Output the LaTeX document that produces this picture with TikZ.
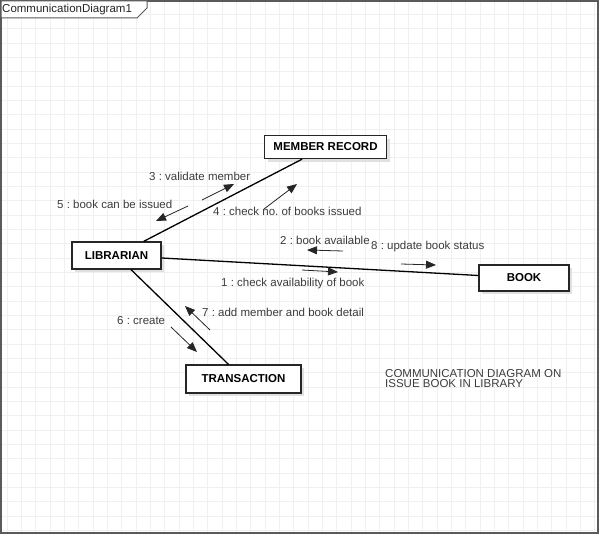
\documentclass[tikz,border=0pt]{standalone}
\usepackage{fontspec}
\setmainfont{Liberation Sans}
\usepackage{tikz}
\usetikzlibrary{arrows.meta,shadows}
\definecolor{gridgr}{RGB}{240,240,240}
\definecolor{framegr}{RGB}{90,90,90}
\definecolor{msgtxt}{RGB}{60,60,60}
\frenchspacing

\begin{document}
\begin{tikzpicture}[x=1pt,y=-1pt,
    every node/.style={font=\fontsize{11.5}{12}\selectfont},
    objbox/.style={draw=black!85,line width=1.3pt,fill=white,
      font=\fontsize{11.5}{12}\selectfont\bfseries,inner sep=0pt,
      drop shadow={shadow xshift=3pt,shadow yshift=-3pt,fill=black!12,opacity=1}},
    link/.style={black,line width=1.3pt},
    msg/.style={black!85,line width=0.8pt,-{Triangle[length=10pt,width=8pt]}},
    msglabel/.style={msgtxt,anchor=west,inner sep=0pt}]

    % page and grid
    \useasboundingbox (0,0) rectangle (602,535);
    \fill[white] (0,0) rectangle (602,535);
    \foreach \i in {0,...,41}
      \draw[gridgr,line width=0.7pt] ({7+14.33*\i},1) -- ({7+14.33*\i},533);
    \foreach \j in {1,...,37}
      \draw[gridgr,line width=0.7pt] (1,{14.33*\j}) -- (598,{14.33*\j});

    % diagram frame with its name tag
    \draw[framegr,line width=1.2pt] (1,1) rectangle (598,533);
    \draw[framegr,line width=1pt,fill=white] (1,1) -- (147,1) -- (147,8) -- (137,18) -- (1,18) -- cycle;
    \node[anchor=west,inner sep=0pt,black!85] (title) at (2,9.5) {CommunicationDiagram1};

    % objects
    \node[objbox,minimum width=122pt,minimum height=23pt] (member) at (325.5,147) {MEMBER RECORD};
    \node[objbox,minimum width=89pt,minimum height=27pt] (librarian) at (116.5,255.5) {LIBRARIAN};
    \node[objbox,minimum width=90pt,minimum height=26pt] (book) at (524,278) {BOOK};
    \node[objbox,minimum width=115pt,minimum height=28pt] (transaction) at (243.5,379) {TRANSACTION};

    % links
    \draw[link] (librarian) -- (member);
    \draw[link] (librarian) -- (book);
    \draw[link] (librarian) -- (transaction);

    % message arrows
    \foreach \n/\sx/\sy/\ex/\ey in {3/202/200/234/184, 5/188/206/156/221,
        4/264/209/297/184, 2/343/251/307/250, 8/401/264/436/265,
        1/302/270/338/272, 7/210/330/185/306, 6/171/327/197/352} {
      \coordinate (t\n) at (\sx,\sy);
      \coordinate (h\n) at (\ex,\ey);
      \draw[msg] (t\n) -- (h\n);
    }

    % message labels
    \node[msglabel] (l3) at (149,176) {3 : validate member};
    \node[msglabel] (l5) at (57,204) {5 : book can be issued};
    \node[msglabel] (l4) at (213,211) {4 : check no. of books issued};
    \node[msglabel] (l2) at (280,240) {2 : book available};
    \node[msglabel] (l8) at (371,247) {8 : update book status};
    \node[msglabel] (l1) at (221,284) {1 : check availability of book};
    \node[msglabel] (l7) at (202,312) {7 : add member and book detail};
    \node[msglabel] (l6) at (117,321) {6 : create};

    % note
    \node[msgtxt,anchor=north west,inner sep=0pt,align=left,
      font=\fontsize{11.5}{10.5}\selectfont] (note) at (385,369)
      {COMMUNICATION DIAGRAM ON\\ISSUE BOOK IN LIBRARY};

\end{tikzpicture}
\end{document}
